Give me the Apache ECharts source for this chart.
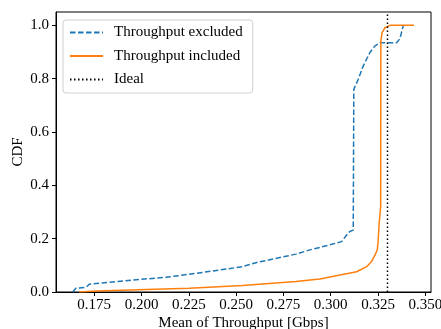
<!DOCTYPE html>
<html>
<head>
<meta charset="utf-8">
<script src="https://cdn.jsdelivr.net/npm/echarts@6/dist/echarts.min.js"></script>
<style>
	html,body{margin:0;padding:0;background:#fff;}
	#cdfChart{width:441px;height:329px;}
</style>
</head>
<body>
<div id="cdfChart"></div>
<script>
	// CDF of mean throughput
	const excludedX = [0.1636,0.1653,0.1706,0.1724,0.1953,0.2129,0.2288,0.2534,0.2605,0.2816,0.2890,0.2996,0.3058,0.3084,0.3101,0.3119,0.3122,0.3128,0.3145,0.3172,0.3207,0.3233,0.3260,0.3348,0.3366,0.3380,0.3385]
	const excludedY = [0.0,0.014,0.017,0.029,0.045,0.055,0.070,0.095,0.110,0.142,0.158,0.177,0.189,0.214,0.227,0.232,0.760,0.770,0.797,0.848,0.898,0.922,0.935,0.935,0.950,0.990,1.0]
	const includedX = [0.1671,0.1759,0.2252,0.2534,0.2816,0.2943,0.3049,0.3137,0.3190,0.3216,0.3234,0.3246,0.3251,0.3256,0.3264,0.3265,0.3271,0.3287,0.3313,0.3440]
	const includedY = [0.0,0.004,0.014,0.024,0.039,0.049,0.064,0.076,0.095,0.114,0.139,0.158,0.195,0.258,0.320,0.940,0.972,0.991,1.0,1.0]
	const idealX = [0.33,0.33]
	const idealY = [0,1.05]
	const xTicks = [0.175,0.200,0.225,0.250,0.275,0.300,0.325,0.350]
	const yTicks = [0,0.2,0.4,0.6,0.8,1.0]

	const fontFamily = '"Liberation Serif","DejaVu Serif",serif'
	const fontSize = 15

	const zip = (xs, ys) => xs.map((x, i) => [x, ys[i]])

	const chart = echarts.init(document.getElementById('cdfChart'))
	const option = {
		animation: false,
		backgroundColor: '#fff',
		textStyle: {fontFamily: fontFamily},
		grid: {
			left: 56, right: 10, top: 12, bottom: 37,
			show: true, borderColor: '#000', borderWidth: 1,
			outerBoundsMode: 'none'
		},
		legend: {
			orient: 'vertical',
			left: 63, top: 20,
			padding: [5, 10, 6, 6],
			itemWidth: 33, itemHeight: 14, itemGap: 8.5,
			borderColor: '#d0d0d0', borderWidth: 1, borderRadius: 3,
			backgroundColor: 'rgba(255,255,255,0.8)',
			itemStyle: {opacity: 0},
			textStyle: {fontFamily: fontFamily, fontSize: fontSize, color: '#000', padding: [0, 0, 0, 6]},
			data: ['Throughput excluded', 'Throughput included', 'Ideal']
		},
		xAxis: {
			type: 'value',
			min: 0.1548, max: 0.353,
			name: 'Mean of Throughput [Gbps]',
			nameLocation: 'middle', nameGap: 24, nameMoveOverlap: false,
			nameTextStyle: {fontFamily: fontFamily, fontSize: fontSize, color: '#000'},
			axisLine: {show: true, onZero: false, lineStyle: {color: '#000', width: 1}},
			axisTick: {show: true, length: 4, customValues: xTicks, lineStyle: {color: '#000'}},
			axisLabel: {
				margin: 6, fontFamily: fontFamily, fontSize: fontSize, color: '#000',
				customValues: xTicks,
				formatter: v => v.toFixed(3)
			},
			splitLine: {show: false}
		},
		yAxis: {
			type: 'value',
			min: 0, max: 1.05,
			name: 'CDF',
			nameLocation: 'middle', nameGap: 30, nameRotate: 90, nameMoveOverlap: false,
			nameTextStyle: {fontFamily: fontFamily, fontSize: fontSize, color: '#000'},
			axisLine: {show: true, lineStyle: {color: '#000', width: 1}},
			axisTick: {show: true, length: 4, customValues: yTicks, lineStyle: {color: '#000'}},
			axisLabel: {
				margin: 7, fontFamily: fontFamily, fontSize: fontSize, color: '#000',
				customValues: yTicks,
				formatter: v => v.toFixed(1)
			},
			splitLine: {show: false}
		},
		series: [
			{
				name: 'Throughput excluded', type: 'line', symbol: 'none',
				data: zip(excludedX, excludedY),
				lineStyle: {color: '#1f77b4', width: 1.5, type: [5.5, 2.5]},
				itemStyle: {color: '#1f77b4'},
				z: 3
			},
			{
				name: 'Throughput included', type: 'line', symbol: 'none',
				data: zip(includedX, includedY),
				lineStyle: {color: '#ff7f0e', width: 1.5},
				itemStyle: {color: '#ff7f0e'},
				z: 4
			},
			{
				name: 'Ideal', type: 'line', symbol: 'none',
				data: zip(idealX, idealY),
				lineStyle: {color: '#000', width: 1.5, type: [1.5, 2.5]},
				itemStyle: {color: '#000'},
				z: 5
			}
		]
	}
	chart.setOption(option)
</script>
</body>
</html>
